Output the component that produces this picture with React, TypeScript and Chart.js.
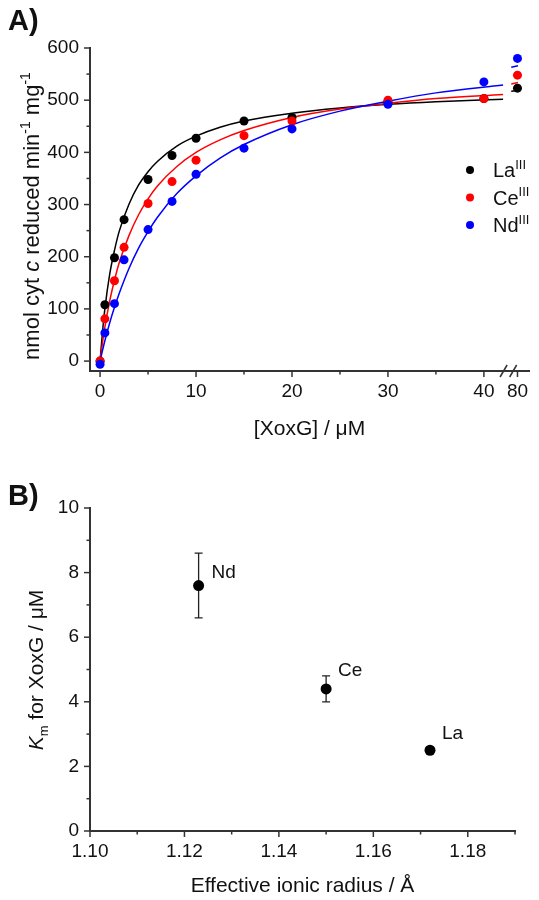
import React, { useEffect, useRef } from 'react';
import { Chart, registerables } from 'chart.js';

Chart.register(...registerables);

const FONT = '"Liberation Sans", Arial, Helvetica, sans-serif';
const TEXT = '#111111';
const AXIS = '#333333';
const BLACK = '#000000';
const RED = '#ff0000';
const BLUE = '#0000ff';

// ---------------- Panel A data ----------------
const xConc = [0, 0.5, 1.5, 2.5, 5, 7.5, 10, 15, 20, 30, 40, 80];
const rateLa = [0, 108, 198, 271, 348, 394, 427, 460, 467, 497, 503, 523];
const rateCe = [0, 81, 154, 218, 302, 344, 385, 432, 460, 500, 503, 548];
const rateNd = [-6, 54, 110, 194, 252, 306, 358, 408, 445, 492, 535, 580];

// fitted curves
const fitX = [0, 0.25, 0.5, 1, 1.5, 2, 3, 4, 5, 6, 8, 10, 12.5, 15, 20, 25, 30, 35, 42];
const fitLa = [0, 55, 100, 166, 212, 249, 300, 337, 363, 383, 412, 431, 448, 460, 475, 485, 492, 497, 502];
const fitCe = [0, 35, 65, 115, 155, 189, 240, 280, 311, 336, 373, 400, 424, 442, 467, 483, 494, 503, 511];
const fitNd = [0, 20, 39, 73, 103, 130, 177, 216, 248, 276, 321, 355, 389, 415, 453, 479, 498, 514, 529];
// short curve pieces after the axis break (axis positions)
const tailX = [42.85, 43.55];
const tailLa = [517, 519];
const tailCe = [531, 534];
const tailNd = [563, 566];

const BREAK_POS = 43.5; // axis position where the "80" value sits after the break
const xTickValsA = [0, 5, 10, 15, 20, 25, 30, 35, 40, BREAK_POS];
const xTickTextA = ['0', '', '10', '', '20', '', '30', '', '40', '80'];
const yTickValsA = [0, 50, 100, 150, 200, 250, 300, 350, 400, 450, 500, 550, 600];
const yTickTextA = ['0', '', '100', '', '200', '', '300', '', '400', '', '500', '', '600'];
const legendIons = ['La', 'Ce', 'Nd'];
const legendColors = [BLACK, RED, BLUE];

// ---------------- Panel B data ----------------
const ions = ['Nd', 'Ce', 'La'];
const ionRadius = [1.123, 1.15, 1.172];
const km = [7.6, 4.4, 2.5];
const kmErr = [1.0, 0.4, 0];
const xTickValsB = [1.1, 1.11, 1.12, 1.13, 1.14, 1.15, 1.16, 1.17, 1.18, 1.19];
const xTickTextB = ['1.10', '', '1.12', '', '1.14', '', '1.16', '', '1.18', ''];
const yTickValsB = [0, 1, 2, 3, 4, 5, 6, 7, 8, 9, 10];
const yTickTextB = ['0', '', '2', '', '4', '', '6', '', '8', '', '10'];

type Seg = { t: string; it?: boolean; sup?: boolean; sub?: boolean; bold?: boolean };

function drawRich(ctx: CanvasRenderingContext2D, segs: Seg[], x: number, y: number, size: number, align: 'left' | 'center', rotate = false) {
  ctx.save();
  ctx.translate(x, y);
  if (rotate) ctx.rotate(-Math.PI / 2);
  const fontFor = (s: Seg) => `${s.it ? 'italic ' : ''}${s.bold ? 'bold ' : ''}${s.sup || s.sub ? Math.round(size * 0.64) : size}px ${FONT}`;
  let total = 0;
  for (const s of segs) {
    ctx.font = fontFor(s);
    total += ctx.measureText(s.t).width;
  }
  let cx = align === 'center' ? -total / 2 : 0;
  ctx.textBaseline = 'alphabetic';
  ctx.textAlign = 'left';
  ctx.fillStyle = TEXT;
  for (const s of segs) {
    ctx.font = fontFor(s);
    const dy = s.sup ? -size * 0.42 : s.sub ? size * 0.24 : 0;
    ctx.fillText(s.t, cx, dy);
    cx += ctx.measureText(s.t).width;
  }
  ctx.restore();
}

const tickPlugin = {
  id: 'customTicks',
  afterDraw(chart: any) {
    const ctx = chart.ctx as CanvasRenderingContext2D;
    ctx.save();
    ctx.strokeStyle = AXIS;
    ctx.lineWidth = 1.5;
    for (const id of ['x', 'y']) {
      const s = chart.scales[id];
      s.ticks.forEach((t: any) => {
        const major = t.label !== '' && t.label !== undefined;
        const len = major ? 6 : 3.5;
        const p = s.getPixelForValue(t.value);
        ctx.beginPath();
        if (id === 'x') {
          ctx.moveTo(p, s.top);
          ctx.lineTo(p, s.top + len);
        } else {
          ctx.moveTo(s.right, p);
          ctx.lineTo(s.right - len, p);
        }
        ctx.stroke();
      });
    }
    ctx.restore();
  },
};

const BREAK_MARKS = [42.05, 43.05];

const panelAPlugin = {
  id: 'panelA',
  afterDraw(chart: any) {
    const ctx = chart.ctx as CanvasRenderingContext2D;
    const xs = chart.scales.x;
    const area = chart.chartArea;
    // axis break marks
    ctx.save();
    ctx.strokeStyle = AXIS;
    ctx.lineWidth = 1.5;
    for (const b of BREAK_MARKS) {
      const p = xs.getPixelForValue(b);
      ctx.beginPath();
      ctx.moveTo(p - 3.5, area.bottom + 6);
      ctx.lineTo(p + 3.5, area.bottom - 6);
      ctx.stroke();
    }
    ctx.restore();
    // legend
    legendIons.forEach((ion, i) => {
      const y = 170 + i * 27.5;
      ctx.save();
      ctx.fillStyle = legendColors[i];
      ctx.beginPath();
      ctx.arc(470, y, 4, 0, Math.PI * 2);
      ctx.fill();
      ctx.restore();
      drawRich(ctx, [{ t: ion }, { t: 'III', sup: true }], 493, y + 7, 20, 'left');
    });
    // axis titles
    drawRich(ctx, [{ t: '[XoxG] / μM' }], (area.left + area.right) / 2, 435, 21, 'center');
    drawRich(
      ctx,
      [{ t: 'nmol cyt ' }, { t: 'c', it: true }, { t: ' reduced min' }, { t: '-1', sup: true }, { t: ' mg' }, { t: '-1', sup: true }],
      39,
      216,
      22,
      'center',
      true
    );
    // panel label
    drawRich(ctx, [{ t: 'A)', bold: true }], 8, 30, 29, 'left');
  },
};

const LABEL_OFFSETS = [
  [13, -8],
  [12, -13],
  [12, -11],
];

const panelBPlugin = {
  id: 'panelB',
  beforeDatasetsDraw(chart: any) {
    const ctx = chart.ctx as CanvasRenderingContext2D;
    const xs = chart.scales.x;
    const ys = chart.scales.y;
    ctx.save();
    ctx.strokeStyle = '#222';
    ctx.lineWidth = 1.3;
    ionRadius.forEach((r, i) => {
      if (!kmErr[i]) return;
      const px = xs.getPixelForValue(r);
      const y1 = ys.getPixelForValue(km[i] + kmErr[i]);
      const y2 = ys.getPixelForValue(km[i] - kmErr[i]);
      ctx.beginPath();
      ctx.moveTo(px, y1);
      ctx.lineTo(px, y2);
      ctx.moveTo(px - 4, y1);
      ctx.lineTo(px + 4, y1);
      ctx.moveTo(px - 4, y2);
      ctx.lineTo(px + 4, y2);
      ctx.stroke();
    });
    ctx.restore();
  },
  afterDraw(chart: any) {
    const ctx = chart.ctx as CanvasRenderingContext2D;
    const xs = chart.scales.x;
    const ys = chart.scales.y;
    const area = chart.chartArea;
    ions.forEach((ion, i) => {
      const px = xs.getPixelForValue(ionRadius[i]);
      const py = ys.getPixelForValue(km[i]);
      drawRich(ctx, [{ t: ion }], px + LABEL_OFFSETS[i][0], py + LABEL_OFFSETS[i][1], 19, 'left');
    });
    drawRich(ctx, [{ t: 'Effective ionic radius / Å' }], (area.left + area.right) / 2, 442, 21, 'center');
    drawRich(ctx, [{ t: 'K', it: true }, { t: 'm', sub: true }, { t: ' for XoxG / μM' }], 43, 220, 21, 'center', true);
    drawRich(ctx, [{ t: 'B)', bold: true }], 8, 55, 29, 'left');
  },
};

const axisCommon = (vals: number[], texts: string[], fitSize: (s: any) => void, padding: number) => ({
  type: 'linear' as const,
  afterBuildTicks: (s: any) => {
    s.ticks = vals.map((v) => ({ value: v }));
  },
  afterFit: fitSize,
  grid: { display: false, drawTicks: false },
  border: { display: true, color: AXIS, width: 2 },
  ticks: {
    autoSkip: false,
    maxRotation: 0,
    minRotation: 0,
    padding,
    color: TEXT,
    font: { family: FONT, size: 19 },
    callback: (_v: any, i: number) => texts[i],
  },
});

const pts = (xs: number[], ys: number[], color: string, r: number) => ({
  data: xs.map((x, i) => ({ x, y: ys[i] })),
  backgroundColor: color,
  borderColor: color,
  borderWidth: 0,
  pointRadius: r,
  pointHoverRadius: r,
  showLine: false,
});

const curve = (xs: number[], ys: number[], color: string) => ({
  data: xs.map((x, i) => ({ x, y: ys[i] })),
  borderColor: color,
  backgroundColor: color,
  borderWidth: 1.5,
  pointRadius: 0,
  showLine: true,
  fill: false,
  cubicInterpolationMode: 'monotone' as const,
});

const xPosA = xConc.map((x) => (x > 40 ? BREAK_POS : x));

const configA = () => ({
  type: 'scatter' as const,
  data: {
    datasets: [
      pts(xPosA, rateNd, BLUE, 4.5),
      pts(xPosA, rateCe, RED, 4.5),
      pts(xPosA, rateLa, BLACK, 4.5),
      curve(fitX, fitNd, BLUE),
      curve(fitX, fitCe, RED),
      curve(fitX, fitLa, BLACK),
      curve(tailX, tailNd, BLUE),
      curve(tailX, tailCe, RED),
      curve(tailX, tailLa, BLACK),
    ],
  },
  options: {
    animation: false as const,
    responsive: false,
    devicePixelRatio: 1,
    layout: { padding: { left: 0, right: 10, top: 48, bottom: 0 } },
    plugins: { legend: { display: false }, tooltip: { enabled: false } },
    scales: {
      x: { ...axisCommon(xTickValsA, xTickTextA, (s: any) => { s.height = 79; }, 9), min: -1.05, max: 44.7 },
      y: { ...axisCommon(yTickValsA, yTickTextA, (s: any) => { s.width = 90; }, 11), min: -19, max: 600 },
    },
  },
  plugins: [tickPlugin, panelAPlugin],
});

const configB = () => ({
  type: 'scatter' as const,
  data: {
    datasets: [pts(ionRadius, km, BLACK, 5.5)],
  },
  options: {
    animation: false as const,
    responsive: false,
    devicePixelRatio: 1,
    layout: { padding: { left: 0, right: 24, top: 58, bottom: 0 } },
    plugins: { legend: { display: false }, tooltip: { enabled: false } },
    scales: {
      x: { ...axisCommon(xTickValsB, xTickTextB, (s: any) => { s.height = 69; }, 9), min: 1.1, max: 1.19 },
      y: { ...axisCommon(yTickValsB, yTickTextB, (s: any) => { s.width = 90; }, 11), min: 0, max: 10 },
    },
  },
  plugins: [tickPlugin, panelBPlugin],
});

function ChartBox({ make, top }: { make: () => any; top: number }) {
  const ref = useRef<HTMLCanvasElement>(null);
  useEffect(() => {
    const chart = new Chart(ref.current as HTMLCanvasElement, make());
    return () => chart.destroy();
  }, []);
  return (
    <canvas
      ref={ref}
      width={539}
      height={450}
      style={{ position: 'absolute', left: 0, top, width: 539, height: 450, display: 'block' }}
    />
  );
}

export default function App() {
  return (
    <div style={{ position: 'absolute', left: 0, top: 0, width: 539, height: 900, background: '#ffffff' }}>
      <ChartBox make={configA} top={0} />
      <ChartBox make={configB} top={450} />
    </div>
  );
}
